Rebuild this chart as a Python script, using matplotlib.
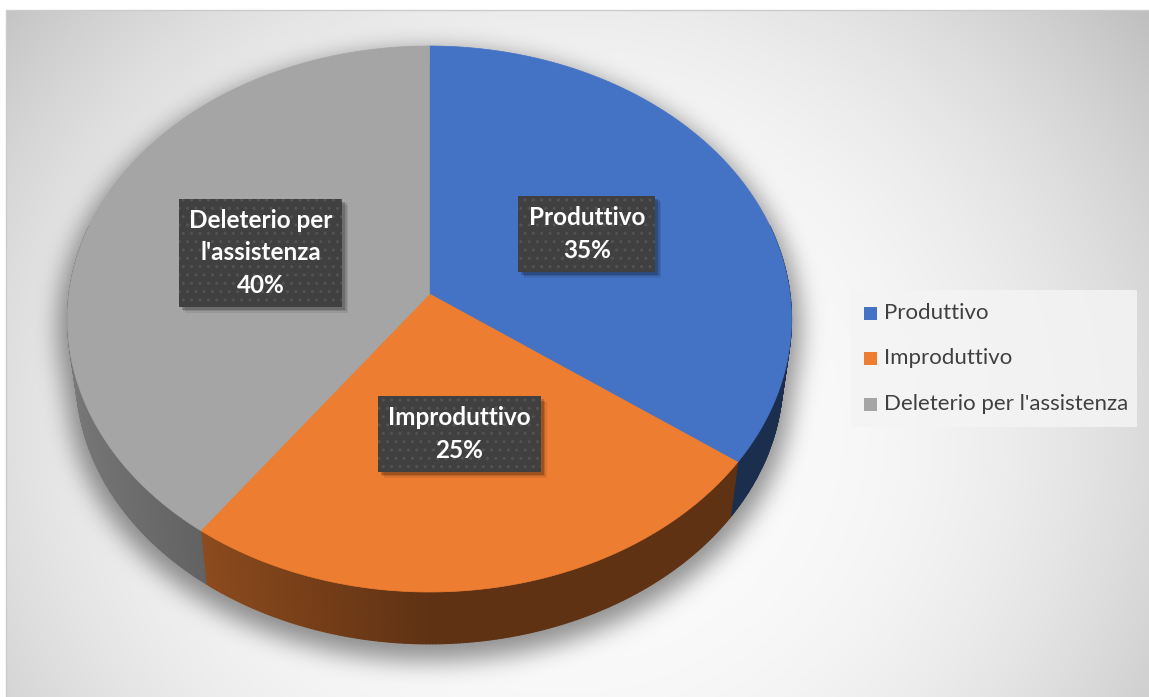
import numpy as np
import matplotlib
matplotlib.use('Agg')
import matplotlib.pyplot as plt
from matplotlib.patches import Polygon, Rectangle
from matplotlib.collections import PolyCollection
from matplotlib.colors import to_rgb

plt.rcParams['font.family'] = ['Lato', 'DejaVu Sans']

# ---------------- data ----------------
categories = ['Produttivo', 'Improduttivo', "Deleterio per l'assistenza"]
label_texts = ['Produttivo', 'Improduttivo', "Deleterio per\nl'assistenza"]
values = [35, 25, 40]
colors = ['#4472C4', '#ED7D31', '#A5A5A5']

# ---------------- geometry (pixel space) ----------------
W, H = 1149, 697
CX, CY = 429.5, 294.0      # pie centre on the top face
A, B, K = 360.5, 270.7, 0.0916   # perspective ellipse parameters
CY_BOT, S_BOT = 353.0, 0.976     # bottom face


def proj(theta, f=1.0, t=0.0, dy=0.0, scale=1.0):
    s = (1 - (1 - S_BOT) * t) * scale
    cyy = CY + (CY_BOT - CY) * t + dy
    u = f * np.cos(theta)
    v = f * np.sin(theta)
    w = 1 - K * v
    return CX + s * A * u / w, cyy + s * B * v / w


fig = plt.figure(figsize=(W / 100, H / 100), dpi=100)
ax = fig.add_axes([0, 0, 1, 1])

# ---------------- background gradient + pie shadow ----------------
yy, xx = np.mgrid[0:H, 0:W] + 0.5
r = np.sqrt(((xx - 560) / 600) ** 2 + ((yy - 430) / 560) ** 2)
val = (250 - 55 * np.clip(r - 0.3, 0, None) ** 2 / 0.81) / 255.0


def blur1d(a, rad, axis):
    a = np.moveaxis(a, axis, -1)
    pad = [(0, 0)] * (a.ndim - 1) + [(rad + 1, rad)]
    p = np.pad(a, pad, mode='edge')
    c = np.cumsum(p, axis=-1)
    out = (c[..., 2 * rad + 1:] - c[..., :-2 * rad - 1]) / (2 * rad + 1)
    return np.moveaxis(out, -1, axis)


mask = np.zeros((H, W), dtype=bool)
SH_DY, SH_SC = 10.0, 1.025
for t in np.linspace(0, 1, 25):
    s = (1 - (1 - S_BOT) * t) * SH_SC
    cyy = CY + (CY_BOT - CY) * t + SH_DY
    xp = (xx - CX) / (s * A)
    ypp = (yy - cyy) / (s * B)
    den = 1 + K * ypp
    v = ypp / den
    u = xp / den
    mask |= (u ** 2 + v ** 2 <= 1) & (den > 0)
sh = mask.astype(float)
for _ in range(3):
    sh = blur1d(sh, 11, 0)
    sh = blur1d(sh, 11, 1)
val = val * (1 - 0.42 * sh)
bg = np.stack([val, val, val], axis=-1)
bg[:10, :, :] = 1.0
bg[:, :6, :] = 1.0
ax.imshow(bg, extent=(0, W, H, 0), zorder=0, interpolation='bilinear')
ax.plot([6, 6, W], [H, 10, 10], color='#cccccc', lw=1.0, zorder=1)

# ---------------- pie ----------------
fr = np.array(values, dtype=float) / np.sum(values)
bounds = np.deg2rad(-90 + 360 * np.concatenate([[0], np.cumsum(fr)]))

# side walls
polys, pcols = [], []
lo, hi = np.deg2rad(-15), np.deg2rad(195)
for i in range(len(values)):
    a0, a1 = max(bounds[i], lo), min(bounds[i + 1], hi)
    if a1 <= a0:
        continue
    n = max(2, int(np.rad2deg(a1 - a0) / 0.5))
    th = np.linspace(a0, a1, n + 1)
    base = np.array(to_rgb(colors[i]))
    for j in range(n):
        t0, t1 = th[j], th[j + 1]
        x0, y0 = proj(t0)
        x1, y1 = proj(t1)
        x2, y2 = proj(t1, t=1)
        x3, y3 = proj(t0, t=1)
        polys.append([(x0, y0), (x1, y1), (x2, y2), (x3, y3)])
        tm = 0.5 * (t0 + t1)
        fac = 0.40 + 0.33 * max(0.0, -np.cos(tm))
        pcols.append(np.clip(base * fac, 0, 1))
pc = PolyCollection(polys, facecolors=pcols, edgecolors=pcols, linewidths=0.8, zorder=2)
ax.add_collection(pc)

# top faces
for i in range(len(values)):
    th = np.linspace(bounds[i], bounds[i + 1], 200)
    xs, ys = proj(th)
    pts = [(CX, CY)] + list(zip(xs, ys))
    ax.add_patch(Polygon(pts, closed=True, fc=colors[i], ec=colors[i], lw=0.5, zorder=3))

# data labels
texts = []
for i in range(len(values)):
    mid = 0.5 * (bounds[i] + bounds[i + 1])
    lx, ly = proj(mid, f=0.5)
    pct = f"{round(fr[i] * 100):.0f}%"
    t = ax.text(lx, ly, f"{label_texts[i]}\n{pct}", ha='center', va='center',
                fontsize=17.5, fontweight='bold', color='white', linespacing=1.5,
                zorder=10,
                bbox=dict(boxstyle='square,pad=0.42', fc='#404040', ec='#535353',
                          lw=0, hatch='..'))
    texts.append(t)

ax.set_xlim(0, W)
ax.set_ylim(H, 0)
ax.set_aspect('auto')
ax.axis('off')

fig.canvas.draw()
inv = ax.transData.inverted()
for t in texts:
    bb = t.get_bbox_patch().get_window_extent()
    (xa, ya), (xb, yb) = inv.transform([[bb.x0, bb.y0], [bb.x1, bb.y1]])
    x0, x1 = min(xa, xb), max(xa, xb)
    y0, y1 = min(ya, yb), max(ya, yb)
    for k, (off, al) in enumerate([(6, 0.08), (4.5, 0.12), (3, 0.18)]):
        ax.add_patch(Rectangle((x0 + off, y0 + off), x1 - x0, y1 - y0,
                               fc='black', ec='none', alpha=al, zorder=9))

# ---------------- legend ----------------
ax.add_patch(Rectangle((851, 290), 286, 137, fc='#f4f4f4', ec='none', alpha=0.85, zorder=4))
for i, cat in enumerate(categories):
    y = 313 + 45.5 * i
    ax.add_patch(Rectangle((864, y - 6.5), 13, 13, fc=colors[i], ec='none', zorder=5))
    ax.text(884, y, cat, ha='left', va='center', fontsize=16, color='#404040', zorder=5)

fig.savefig('out.png', dpi=100)
